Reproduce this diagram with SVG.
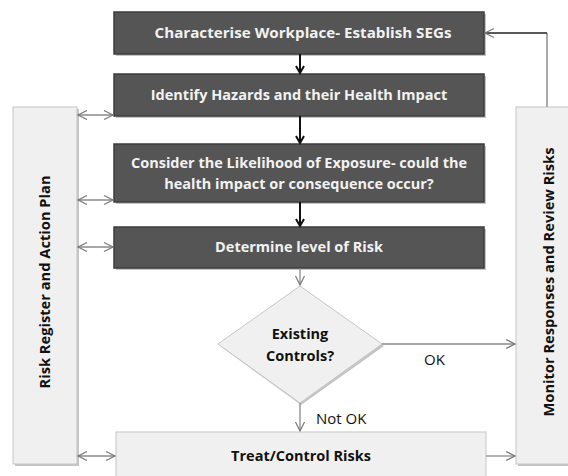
<svg xmlns="http://www.w3.org/2000/svg" width="568" height="476" viewBox="0 0 568 476">
  <defs>
    <marker id="headDark" markerWidth="10" markerHeight="10" refX="8" refY="5" orient="auto" markerUnits="userSpaceOnUse">
      <path d="M1,1 L8,5 L1,9" fill="none" stroke="#111" stroke-width="2"/>
    </marker>
    <marker id="headGray" markerWidth="12" markerHeight="12" refX="10" refY="6" orient="auto-start-reverse" markerUnits="userSpaceOnUse">
      <path d="M1,1.5 L10,6 L1,10.5" fill="none" stroke="#777" stroke-width="1.2"/>
    </marker>
  </defs>
  <style>
    .step { fill: #555555; stroke: #3c3c3c; stroke-width: 1.5; }
    .shadow { fill: #c4c4c4; }
    .light { fill: #f0f0f0; stroke: #c6c6c6; stroke-width: 1; }
    .stepText { font-family: "Open Sans", "Liberation Sans", sans-serif; font-weight: bold; font-size: 14.5px; fill: #f2f2f2; text-anchor: middle; }
    .darkText { font-family: "Open Sans", "Liberation Sans", sans-serif; font-weight: bold; font-size: 14.5px; fill: #111; text-anchor: middle; }
    .label { font-family: "Open Sans", "Liberation Sans", sans-serif; font-size: 15px; fill: #111; }
    .flow { stroke: #111; stroke-width: 2; fill: none; }
    .link { stroke: #8a8a8a; stroke-width: 1.3; fill: none; }
  </style>

  <!-- side panels -->
  <g id="register">
    <rect class="shadow" x="15" y="109" width="64" height="357"/>
    <rect class="light" x="13" y="107" width="64" height="357"/>
    <text class="darkText" transform="translate(50,282) rotate(-90)" textLength="213" lengthAdjust="spacingAndGlyphs">Risk Register and Action Plan</text>
  </g>
  <g id="monitor">
    <rect class="shadow" x="518" y="109" width="60" height="357"/>
    <rect class="light" x="516" y="107" width="60" height="357"/>
    <text class="darkText" transform="translate(554,282) rotate(-90)" textLength="269" lengthAdjust="spacingAndGlyphs">Monitor Responses and Review Risks</text>
  </g>

  <!-- process steps -->
  <g id="characterise">
    <rect class="shadow" x="116" y="14" width="370" height="42"/>
    <rect class="step" x="114" y="12" width="370" height="42"/>
    <text class="stepText" x="303" y="38" textLength="297" lengthAdjust="spacingAndGlyphs">Characterise Workplace- Establish SEGs</text>
  </g>
  <g id="identify">
    <rect class="shadow" x="116" y="76" width="370" height="42"/>
    <rect class="step" x="114" y="74" width="370" height="42"/>
    <text class="stepText" x="299" y="100">Identify Hazards and their Health Impact</text>
  </g>
  <g id="likelihood">
    <rect class="shadow" x="116" y="146" width="370" height="58"/>
    <rect class="step" x="114" y="144" width="370" height="58"/>
    <text class="stepText" x="299" y="168">Consider the Likelihood of Exposure- could the</text>
    <text class="stepText" x="299" y="189">health impact or consequence occur?</text>
  </g>
  <g id="level">
    <rect class="shadow" x="116" y="229" width="370" height="41"/>
    <rect class="step" x="114" y="227" width="370" height="41"/>
    <text class="stepText" x="299" y="252">Determine level of Risk</text>
  </g>
  <g id="controls">
    <polygon points="301,288 384,346 301,405 220,346" class="shadow"/>
    <polygon points="300,286 382,344 300,403 218,344" class="light" stroke="#bdbdbd"/>
    <text class="darkText" x="300" y="339">Existing</text>
    <text class="darkText" x="300" y="361">Controls?</text>
  </g>
  <g id="treat">
    <rect class="light" x="116" y="432" width="370" height="50"/>
    <text class="darkText" x="301" y="461">Treat/Control Risks</text>
  </g>

  <!-- connectors -->
  <g id="connectors">
    <line class="flow" x1="300" y1="54" x2="300" y2="73" marker-end="url(#headDark)"/>
    <line class="flow" x1="300" y1="116" x2="300" y2="143" marker-end="url(#headDark)"/>
    <line class="flow" x1="300" y1="202" x2="300" y2="226" marker-end="url(#headDark)"/>
    <line class="link" x1="300" y1="268" x2="300" y2="285" marker-end="url(#headGray)"/>
    <line class="link" x1="300" y1="403" x2="300" y2="431" marker-end="url(#headGray)"/>
    <line class="link" x1="382" y1="344" x2="515" y2="344" marker-end="url(#headGray)"/>
    <line class="link" x1="486" y1="456" x2="515" y2="456" marker-end="url(#headGray)"/>
    <polyline points="547,107 547,33" stroke="#aaaaaa" stroke-width="2" fill="none"/>
    <line x1="547" y1="33" x2="485" y2="33" stroke="#222" stroke-width="1.3" marker-end="url(#headGray)"/>
    <line class="link" x1="78" y1="115" x2="113" y2="115" marker-start="url(#headGray)" marker-end="url(#headGray)"/>
    <line class="link" x1="78" y1="200" x2="113" y2="200" marker-start="url(#headGray)" marker-end="url(#headGray)"/>
    <line class="link" x1="78" y1="247" x2="113" y2="247" marker-start="url(#headGray)" marker-end="url(#headGray)"/>
    <line class="link" x1="78" y1="456" x2="115" y2="456" marker-start="url(#headGray)" marker-end="url(#headGray)"/>
    <text class="label" x="424" y="365">OK</text>
    <text class="label" x="316" y="424">Not OK</text>
  </g>
</svg>
